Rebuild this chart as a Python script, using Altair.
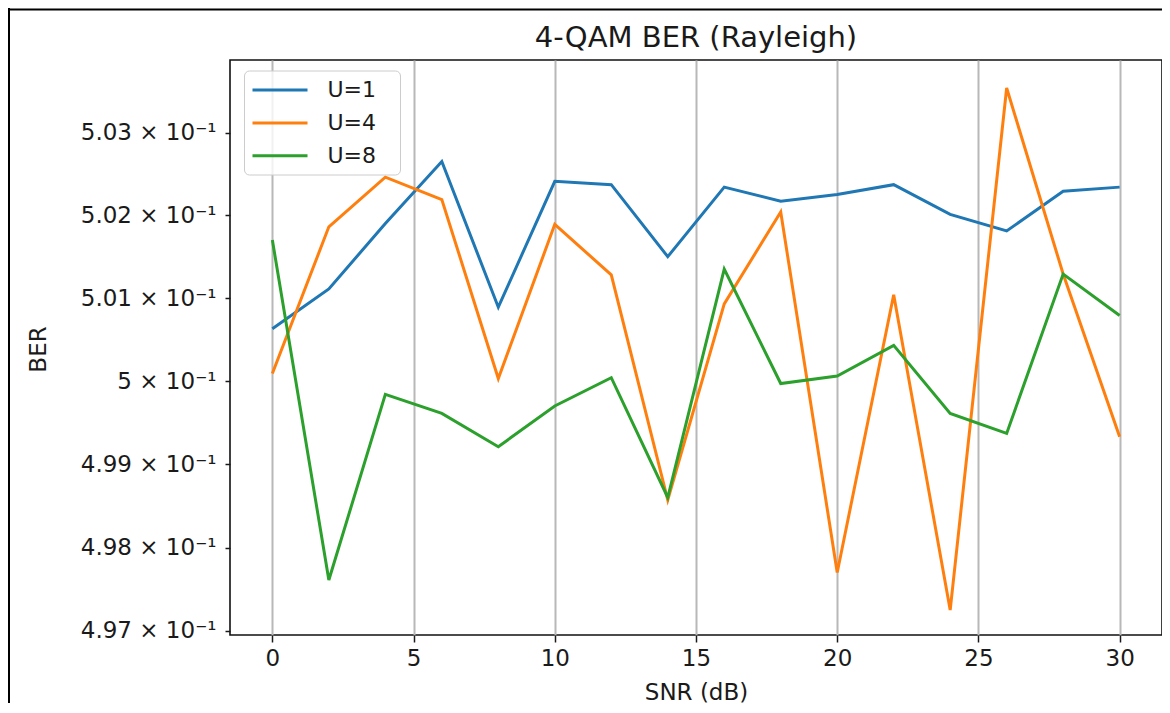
import altair as alt
import pandas as pd

# ---- data ----
snr_db = [0, 2, 4, 6, 8, 10, 12, 14, 16, 18, 20, 22, 24, 26, 28, 30]
ber_u1 = [0.50063, 0.50111, 0.50190, 0.50265, 0.50089, 0.50241, 0.50237, 0.50150,
          0.50234, 0.50217, 0.50225, 0.50237, 0.50201, 0.50181, 0.50229, 0.50234]
ber_u4 = [0.50009, 0.50186, 0.50246, 0.50219, 0.50003, 0.50189, 0.50128, 0.49857,
          0.50093, 0.50204, 0.49770, 0.50104, 0.49725, 0.50354, 0.50129, 0.49933]
ber_u8 = [0.50170, 0.49761, 0.49984, 0.49961, 0.49921, 0.49970, 0.50004, 0.49860,
          0.50135, 0.49997, 0.50006, 0.50043, 0.49961, 0.49937, 0.50129, 0.50079]
series_names = ["U=1", "U=4", "U=8"]
series_colors = ["#1f77b4", "#ff7f0e", "#2ca02c"]
x_ticks = [0, 5, 10, 15, 20, 25, 30]
y_ticks = [0.497, 0.498, 0.499, 0.500, 0.501, 0.502, 0.503]
title_text = "4-QAM BER (Rayleigh)"

rows = []
for name, vals in zip(series_names, [ber_u1, ber_u4, ber_u8]):
    for s, v in zip(snr_db, vals):
        rows.append({"SNR": s, "BER": v, "series": name})
df = pd.DataFrame(rows)

W, H = 932, 575
FONT = "DejaVu Sans"
TXT = "#1a1a1a"

label_expr = ("abs(datum.value - 0.5) < 1e-9 ? '5 × 10⁻¹' : "
              "format(datum.value * 10, '.2f') + ' × 10⁻¹'")

lines = alt.Chart(df).mark_line(strokeWidth=3).encode(
    x=alt.X("SNR:Q",
            scale=alt.Scale(domain=[-1.5, 31.5], nice=False, zero=False),
            axis=alt.Axis(values=x_ticks, format="d", title="SNR (dB)",
                          grid=True, gridColor="#b8b8b8", gridWidth=2,
                          domain=False, tickSize=7, tickWidth=1.5, tickColor=TXT,
                          labelFontSize=23, labelFont=FONT, labelColor=TXT,
                          labelPadding=5,
                          titleFontSize=23, titleFont=FONT, titleColor=TXT,
                          titleFontWeight="normal", titleX=W / 2, titleY=64,
                          titleBaseline="alphabetic", titleAlign="center")),
    y=alt.Y("BER:Q",
            scale=alt.Scale(type="log", domain=[0.496952, 0.50388], nice=False, zero=False),
            axis=alt.Axis(values=y_ticks, labelExpr=label_expr, title="BER",
                          grid=False, domain=False, tickSize=5, tickWidth=1.5,
                          tickColor=TXT, labelFontSize=23, labelFont=FONT,
                          labelColor=TXT, labelPadding=9, labelBaseline="middle",
                          titleFontSize=23, titleFont=FONT, titleColor=TXT,
                          titleFontWeight="normal", titleX=-192, titleY=289,
                          titleAngle=270, titleBaseline="middle", titleAlign="center")),
    color=alt.Color("series:N",
                    scale=alt.Scale(domain=series_names, range=series_colors),
                    legend=alt.Legend(title=None, orient="none", legendX=14, legendY=10.5,
                                      symbolType="M-2.5,0H2.5", symbolSize=484,
                                      symbolStrokeWidth=3, symbolOffset=16.5,
                                      labelFontSize=22, labelFont=FONT, labelColor=TXT,
                                      labelOffset=35,
                                      labelExpr="datum.label + '\u2800'",
                                      rowPadding=8.9, padding=7, cornerRadius=5,
                                      strokeColor="#cccccc",
                                      fillColor="rgba(255,255,255,0.8)")),
)

dummy = alt.Data(values=[{"k": 1}])
frame_left = alt.Chart(dummy).mark_rule(color="#000", strokeWidth=2).encode(
    x=alt.value(-221), y=alt.value(-52), y2=alt.value(H + 70))
frame_top = alt.Chart(dummy).mark_rule(color="#000", strokeWidth=2).encode(
    x=alt.value(-222), x2=alt.value(W + 2), y=alt.value(-50.5))
title = alt.Chart(dummy).mark_text(
    text=title_text, font=FONT, fontSize=29, color=TXT,
    align="center", baseline="alphabetic").encode(
    x=alt.value(W / 2), y=alt.value(-13))

chart = alt.layer(lines, frame_left, frame_top, title).properties(
    width=W, height=H,
    autosize="none",
    padding={"left": 222, "top": 52, "right": 0, "bottom": 68},
).configure(background="white").configure_view(stroke="#111", strokeWidth=1.6)

chart.save("out.html", embed_options={"renderer": "svg", "actions": False})
